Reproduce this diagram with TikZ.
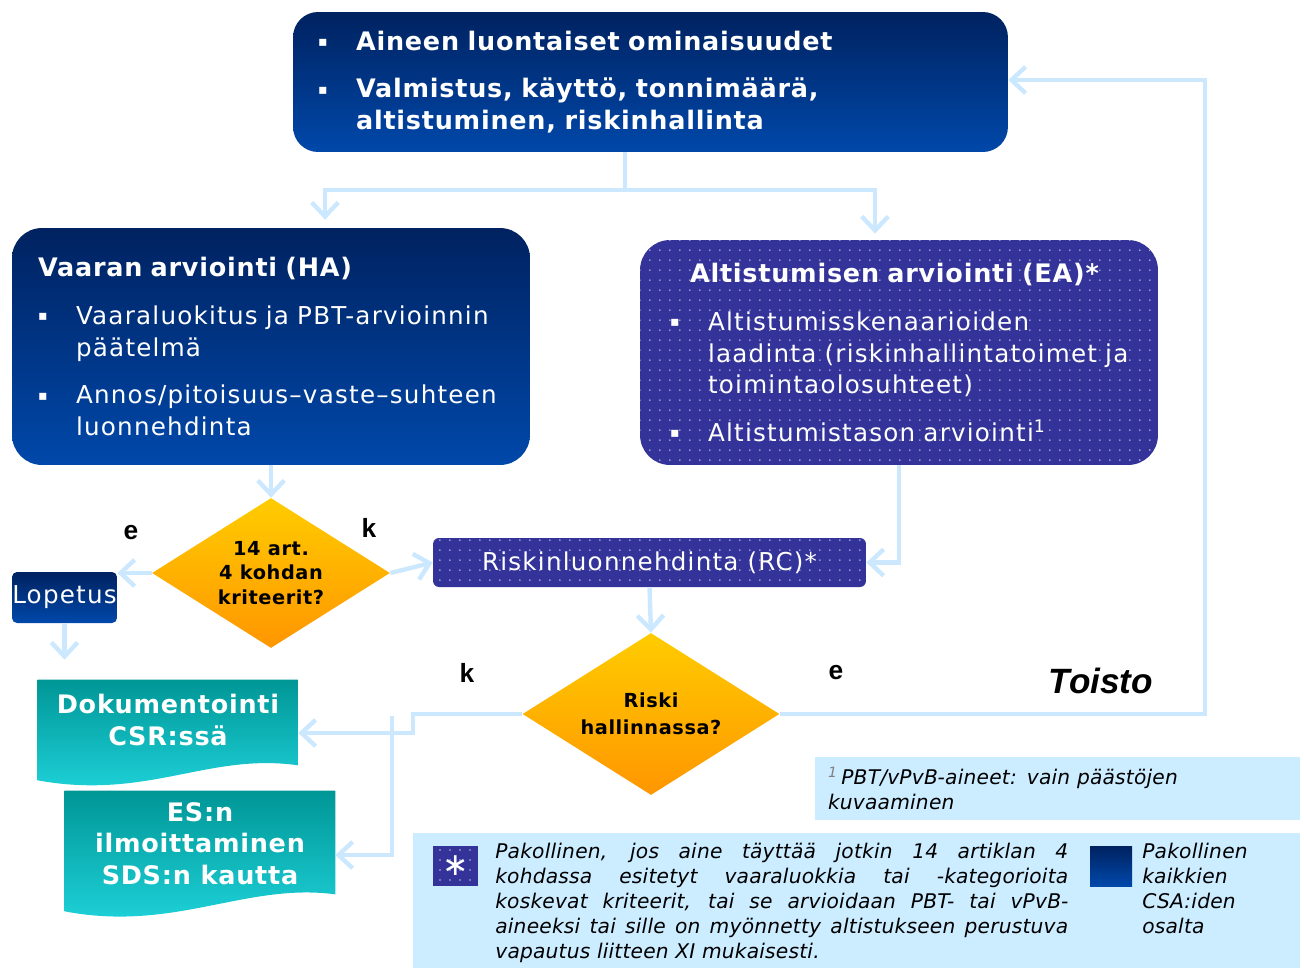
\documentclass[tikz,border=0pt]{standalone}
\usepackage{fontspec}
\setmainfont{DejaVu Sans}[LetterSpace=5, BoldFeatures={LetterSpace=3}, ItalicFeatures={LetterSpace=1}]
\newfontfamily\arialfont{Liberation Sans}
\usetikzlibrary{arrows.meta,shapes.geometric,patterns.meta,backgrounds,calc}

\definecolor{navytop}{RGB}{0,34,96}
\definecolor{navybot}{RGB}{0,72,170}
\definecolor{eablue}{RGB}{51,51,153}
\definecolor{arrowblue}{RGB}{204,232,255}
\definecolor{notefill}{RGB}{204,236,255}
\definecolor{ambertop}{RGB}{255,204,0}
\definecolor{amberbot}{RGB}{255,150,0}
\definecolor{tealtop}{RGB}{0,150,150}
\definecolor{tealbot}{RGB}{32,214,222}

\newcommand{\bul}{\makebox[0.76cm][l]{\raisebox{2pt}{\fontsize{8}{8}\selectfont▪}}}
\newcommand{\ind}{\hspace*{0.76cm}}

\begin{document}
\begin{tikzpicture}[x=0.02cm, y=-0.02cm,
    every node/.style={inner sep=0pt},
    navybox/.style={rounded corners=0.5cm, top color=navytop, bottom color=navybot, text=white, align=left},
    dotbox/.style={rounded corners=0.6cm, fill=eablue, text=white, align=left,
      postaction={pattern={Dots[distance=0.2cm,radius=0.5pt]}, pattern color=white!65!eablue}},
    decision/.style={diamond, top color=ambertop, bottom color=amberbot, align=center,
      font=\fontsize{11}{14}\selectfont\bfseries},
    docbox/.style={align=center, text=white, font=\fontsize{14.5}{18}\selectfont\bfseries},
    docshade/.style={top color=tealtop, bottom color=tealbot},
    link/.style={draw=arrowblue, line width=2.5pt},
    arr/.style={link, -{Straight Barb[length=8pt,width=15pt]}},
    yesno/.style={font=\arialfont\fontsize{15}{15}\selectfont\bfseries},
    notebox/.style={fill=notefill, align=left, font=\fontsize{11.5}{14.2}\selectfont\itshape}]
  \useasboundingbox (0,0) rectangle (1304,970);

  % input box
  \node[navybox, inner xsep=0.5cm, text width=13.3cm, minimum height=2.8cm,
    font=\fontsize{14.5}{18}\selectfont\bfseries] (prop) at (650.5,82)
    {\bul Aineen luontaiset ominaisuudet\\[0.32cm]
     \bul Valmistus, käyttö, tonnimäärä,\\
     \ind altistuminen, riskinhallinta};

  % hazard and exposure assessment
  \node[navybox, rounded corners=0.6cm, inner xsep=0.52cm, text width=9.32cm, minimum height=4.74cm,
    font=\fontsize{14}{18}\selectfont] (ha) at (271,346.5)
    {{\fontsize{14.5}{18}\selectfont\bfseries Vaaran arviointi (HA)}\\[0.32cm]
     \bul Vaaraluokitus ja PBT-arvioinnin\\
     \ind päätelmä\\[0.32cm]
     \bul Annos/pitoisuus–vaste–suhteen\\
     \ind luonnehdinta};
  \node[dotbox, inner xsep=0.6cm, text width=9.16cm, minimum height=4.5cm,
    font=\fontsize{14}{18}\selectfont] (ea) at (899,352.5)
    {\hspace*{0.4cm}{\fontsize{14.5}{18}\selectfont\bfseries Altistumisen arviointi (EA)*}\\[0.32cm]
     \bul Altistumisskenaarioiden\\
     \ind\mbox{laadinta (riskinhallintatoimet ja}\\
     \ind toimintaolosuhteet)\\[0.32cm]
     \bul Altistumistason arviointi\textsuperscript{1}};

  % decisions and steps
  \node[decision, aspect=1.59, minimum width=4.76cm, minimum height=3cm] (d1) at (271,573)
    {14 art.\\4 kohdan\\kriteerit?};
  \node[navybox, rounded corners=0.1cm, minimum width=2.1cm, minimum height=1.02cm,
    font=\fontsize{14}{18}\selectfont] (lop) at (64.5,597.5) {Lopetus};
  \node[dotbox, rounded corners=0.12cm, minimum width=8.66cm, minimum height=0.98cm, align=center,
    font=\fontsize{14}{18}\selectfont] (rc) at (649.5,562.5) {Riskinluonnehdinta (RC)*};
  \node[decision, aspect=1.59, minimum width=5.14cm, minimum height=3.24cm,
    font=\fontsize{11}{15.3}\selectfont\bfseries] (d2) at (651,714) {Riski\\hallinnassa?};

  % outputs
  \node[docbox, minimum width=5.2cm, minimum height=1.6cm] (dok) at (168,720) {Dokumentointi\\CSR:ssä};
  \node[docbox, minimum width=5.4cm, minimum height=2.1cm] (es) at (200,843.5)
    {ES:n\\ilmoittaminen\\SDS:n kautta};
  \begin{scope}[on background layer]
    \shade[docshade] (dok.north west) -- (dok.north east) -- ($(dok.south east)+(0,5)$)
      .. controls ($(dok.south east)+(-90,-8)$) and ($(dok.south west)+(110,40)$)
      .. ($(dok.south west)+(0,20)$) -- cycle;
    \shade[docshade] (es.north west) -- (es.north east) -- ($(es.south east)+(0,-2)$)
      .. controls ($(es.south east)+(-90,-14)$) and ($(es.south west)+(110,36)$)
      .. ($(es.south west)+(0,15)$) -- cycle;
  \end{scope}

  % labels
  \node[yesno] (e1) at (131,533) {e};
  \node[yesno] (k1) at (369,528) {k};
  \node[yesno] (k2) at (467,673) {k};
  \node[yesno] (e2) at (836,673) {e};
  \node[font=\arialfont\fontsize{20}{20}\selectfont\bfseries\itshape] (again) at (1101,681) {Toisto};

  % notes
  \node[notebox, inner xsep=0.26cm, text width=9.18cm, minimum height=1.26cm] (foot) at (1057.5,788.5)
    {\textcolor{gray}{\textsuperscript{1}}\,PBT/vPvB-aineet: vain päästöjen\\kuvaaminen};
  \node[notebox, minimum width=17.74cm, minimum height=2.7cm] (legend) at (856.5,900.5) {};
  \node[dotbox, sharp corners, minimum width=0.9cm, minimum height=0.8cm,
    font=\fontsize{18}{18}\selectfont] (starkey) at (455.5,866) {∗};
  \node[notebox, fill=none, anchor=north west, text width=11.46cm, align=justify] (startext) at (495,843)
    {\hyphenpenalty=10000 Pakollinen, jos aine täyttää jotkin 14 artiklan 4\linebreak
     kohdassa esitetyt vaaraluokkia tai -kategorioita\linebreak
     koskevat kriteerit, tai se arvioidaan PBT- tai vPvB-\linebreak
     aineeksi tai sille on myönnetty altistukseen perustuva\linebreak
     vapautus liitteen XI mukaisesti.};
  \node[navybox, sharp corners, minimum width=0.84cm, minimum height=0.8cm] (navykey) at (1111,866) {};
  \node[notebox, fill=none, anchor=north west] (navytext) at (1142,843)
    {Pakollinen\\kaikkien\\CSA:iden\\osalta};

  % connectors
  \coordinate (fork) at (625,190);
  \draw[link] (prop.south -| fork) -- (fork);
  \draw[arr, shorten >=0.16cm] (fork) -| ([xshift=1.08cm]ha.north);
  \draw[arr, shorten >=0.12cm] (fork) -| ([xshift=-0.48cm]ea.north);
  \draw[arr] (ha.south) -- (d1.north);
  \draw[arr] (d1.west) -- (d1.west -| lop.east);
  \draw[arr] (d1.east) -- (rc.west);
  \draw[arr, shorten >=0.4cm] (lop.south) -- (lop.south |- dok.north);
  \draw[arr] (ea.south) |- (rc.east);
  \draw[arr] (rc.south) -- (d2.north);
  \coordinate (loop) at (1205,80);
  \draw[arr] (d2.east) -| (loop) -- (loop -| prop.east);
  \coordinate (kbend) at (413,733);
  \coordinate (ktop) at (392,716);
  \coordinate (kes) at (392,855);
  \draw[arr] (d2.west) -| (kbend) -- (kbend -| dok.east);
  \draw[arr] (ktop) -- (kes) -- (kes -| es.east);
\end{tikzpicture}
\end{document}
